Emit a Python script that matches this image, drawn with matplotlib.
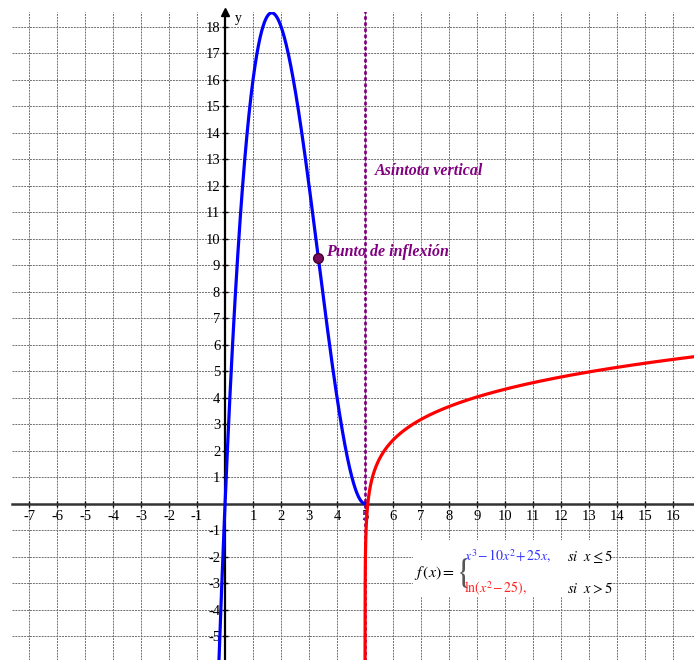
import numpy as np
import matplotlib.pyplot as plt
from matplotlib.patches import Rectangle

plt.rcParams['font.family'] = ['Liberation Serif', 'DejaVu Serif']
plt.rcParams['mathtext.fontset'] = 'stix'

# axis ranges and tick labels
x_min, x_max = -7.61, 16.75
y_min, y_max = -5.9, 18.55
x_ticks = [t for t in range(-7, 17) if t != 0]
y_ticks = [t for t in range(-5, 19) if t != 0]

# pieces of f
x_cubic = np.linspace(-0.23, 5, 400)
x_log = 5 + np.concatenate([np.geomspace(1e-5, 0.5, 300), np.linspace(0.5, x_max - 5, 300)[1:]])
x_inflex = 10 / 3
x_asym = 5


def f_cubic(x):
    return x**3 - 10 * x**2 + 25 * x


def f_log(x):
    return np.log(x**2 - 25)


fig = plt.figure(figsize=(6.94, 6.6), dpi=100)
ax = fig.add_axes([12 / 694, 0, 682 / 694, 648 / 660])
ax.set_xlim(x_min, x_max)
ax.set_ylim(y_min, y_max)

# grid
for t in range(-7, 17):
    ax.axvline(t, color='#707070', lw=0.7, ls=(0, (2, 1)), zorder=0)
for t in range(-5, 19):
    ax.axhline(t, color='#707070', lw=0.7, ls=(0, (2, 1)), zorder=0)

# axes through origin
for s in ['top', 'right']:
    ax.spines[s].set_visible(False)
ax.spines['left'].set_position(('data', 0))
ax.spines['bottom'].set_position(('data', 0))
ax.spines['left'].set_linewidth(1.6)
ax.spines['bottom'].set_linewidth(1.8)
ax.spines['bottom'].set_color('#333333')
ax.spines['left'].set_zorder(3)
ax.plot(0, 1, '^k', ms=6, transform=ax.get_xaxis_transform(), clip_on=False, zorder=4)
ax.text(0.35, 18.3, 'y', fontsize=10, ha='left', va='center')

ax.set_xticks(x_ticks)
ax.set_yticks(y_ticks)
ax.set_xticklabels([str(t) for t in x_ticks])
ax.set_yticklabels([str(t) for t in y_ticks])
ax.tick_params(axis='both', direction='inout', length=5, width=1, labelsize=10.5, pad=1)
ax.tick_params(axis='x', pad=2)

# white box behind the formula
ax.add_patch(Rectangle((6.7, -3.52), 7.05, 2.15, facecolor='white', edgecolor='none', zorder=1))

# curves
ax.plot(x_cubic, f_cubic(x_cubic), color='#0000ff', lw=2.3, zorder=5)
ax.plot(x_log, f_log(x_log), color='#ff0000', lw=2.3, zorder=5)
ax.axvline(x_asym, color='#800080', lw=2, ls=(0, (0.6, 1.6)), dash_capstyle='round', zorder=4)

# inflection point
ax.plot(x_inflex, f_cubic(x_inflex), 'o', ms=7, mfc='#7a0a5c', mec='#400030', zorder=6)
ax.text(3.62, 9.5, 'Punto de inflexión', color='#800080', fontsize=11.5,
        fontweight='bold', fontstyle='italic', ha='left', va='center', zorder=6)
ax.text(5.35, 12.55, 'Asíntota vertical', color='#800080', fontsize=11.5,
        fontweight='bold', fontstyle='italic', ha='left', va='center', zorder=6)

# formula
ax.text(6.75, -2.6, r'$f\,(x)=$', fontsize=11.5, ha='left', va='center', zorder=6)
ax.text(8.2, -2.6, r'$\{$', fontsize=25, color='#555555', ha='left', va='center', zorder=6)
ax.text(8.55, -2.0, r'$x^3\!-10x^2\!+25x,$', color='#3333ff', fontsize=10, ha='left', va='center', zorder=6)
ax.text(8.55, -3.2, r'$\mathrm{ln}\left(x^2\!-25\right),$', color='#ff2020', fontsize=10, ha='left', va='center', zorder=6)
ax.text(12.2, -2.0, r'$si\ \ x\leq 5$', fontsize=10.5, ha='left', va='center', zorder=6)
ax.text(12.2, -3.2, r'$si\ \ x>5$', fontsize=10.5, ha='left', va='center', zorder=6)

fig.savefig('out.png', dpi=100)
